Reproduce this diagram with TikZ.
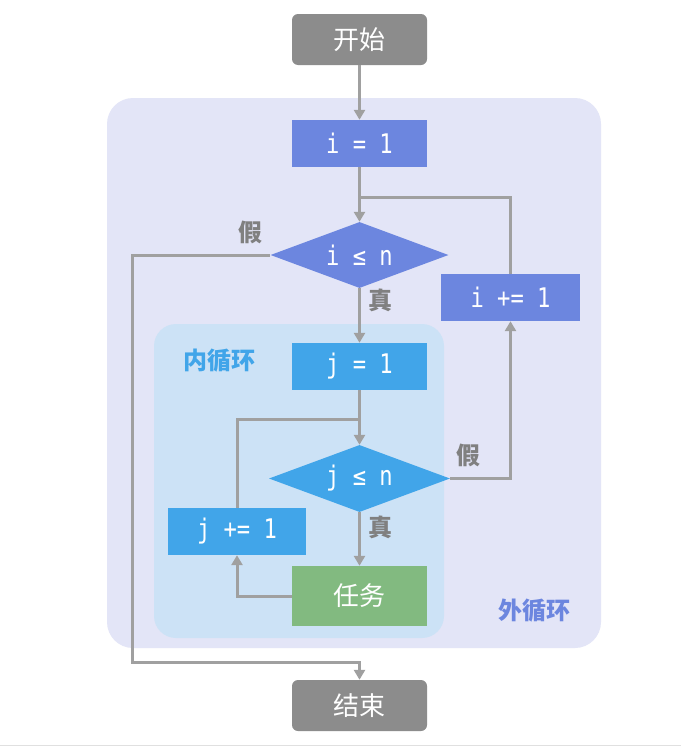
\documentclass[tikz,border=0pt]{standalone}
\usepackage{fontspec}
\newfontfamily\code[FakeStretch=0.82]{DejaVu Sans Mono}
\newfontfamily\cjk{Noto Sans CJK SC}
\usetikzlibrary{shapes.geometric,arrows.meta}
\definecolor{termgray}{HTML}{8C8C8C}
\definecolor{outerbg}{HTML}{E3E5F7}
\definecolor{innerbg}{HTML}{CCE2F6}
\definecolor{iblue}{HTML}{6C86DF}
\definecolor{jblue}{HTML}{41A5E9}
\definecolor{taskgreen}{HTML}{82BA80}
\definecolor{wiregray}{HTML}{A0A0A0}
\definecolor{notegray}{HTML}{808080}
\tikzset{
  box/.style={rectangle, inner sep=0pt, text=white, minimum width=135pt, minimum height=47pt},
  term/.style={box, fill=termgray, rounded corners=6pt, minimum height=51pt, font=\cjk\fontsize{26}{26}\selectfont},
  ibox/.style={box, fill=iblue, font=\code\fontsize{27}{27}\selectfont},
  jbox/.style={box, fill=jblue, font=\code\fontsize{27}{27}\selectfont},
  task/.style={box, fill=taskgreen, minimum height=60pt, font=\cjk\fontsize{26}{26}\selectfont},
  dec/.style={diamond, inner sep=0pt, aspect=2.7, text=white, font=\code\fontsize{27}{27}\selectfont},
  note/.style={text=notegray, font=\cjk\bfseries\fontsize{24}{24}\selectfont},
  line/.style={draw=wiregray, line width=3pt},
  flow/.style={line, -{Triangle[length=10pt,width=11pt]}}
}
\begin{document}
\begin{tikzpicture}[x=1pt,y=-1pt]
\useasboundingbox[fill=white] (0,0) rectangle (681,747);
\draw[line width=1.5pt, black!12] (0,745.5) -- (681,745.5);
% loop areas
\fill[outerbg, rounded corners=26pt] (107,98) rectangle (601,648);
\fill[innerbg, rounded corners=22pt] (154,324) rectangle (444,638);
\node[text=jblue, font=\cjk\bfseries\fontsize{24}{24}\selectfont] (innertag) at (219,361) {内循环};
\node[text=iblue, font=\cjk\bfseries\fontsize{24}{24}\selectfont] (outertag) at (534,611) {外循环};
% steps
\node[term] (start) at (359.5,39.5) {开始};
\node[ibox] (iinit) at (359.5,143.5) {i = 1};
\node[dec, fill=iblue, minimum width=178pt, minimum height=66pt] (icond) at (359.5,255) {i ≤ n};
\node[ibox, minimum width=139pt] (iinc) at (510.5,297.5) {i += 1};
\node[jbox] (jinit) at (359.5,366.5) {j = 1};
\node[dec, fill=jblue, minimum width=181pt, minimum height=67pt] (jcond) at (359.5,478.5) {j ≤ n};
\node[jbox, minimum width=138pt] (jinc) at (237,531.5) {j += 1};
\node[task] (work) at (359.5,596) {任务};
\node[term] (stop) at (359.5,705.5) {结束};
\coordinate (ojoin) at (359.5,197);
\coordinate (ijoin) at (359.5,419);
\coordinate (exit) at (132,662);
% branch labels
\node[note] (ifalse) at (250,232) {假};
\node[note] (itrue) at (380,300) {真};
\node[note] (jfalse) at (468,455) {假};
\node[note] (jtrue) at (380,527) {真};
% connectors
\draw[flow] (start) -- (iinit);
\draw[flow] (iinit) -- (icond);
\draw[line] (iinc.north) |- (ojoin);
\draw[flow] (icond.west) -| (exit) -| (stop.north);
\draw[flow] (icond) -- (jinit);
\draw[flow] (jinit) -- (jcond);
\draw[line] (jinc.north) |- (ijoin);
\draw[flow] (jcond.east) -| (iinc.south);
\draw[flow] (jcond) -- (work);
\draw[flow] (work.west) -| (jinc.south);
\end{tikzpicture}
\end{document}
